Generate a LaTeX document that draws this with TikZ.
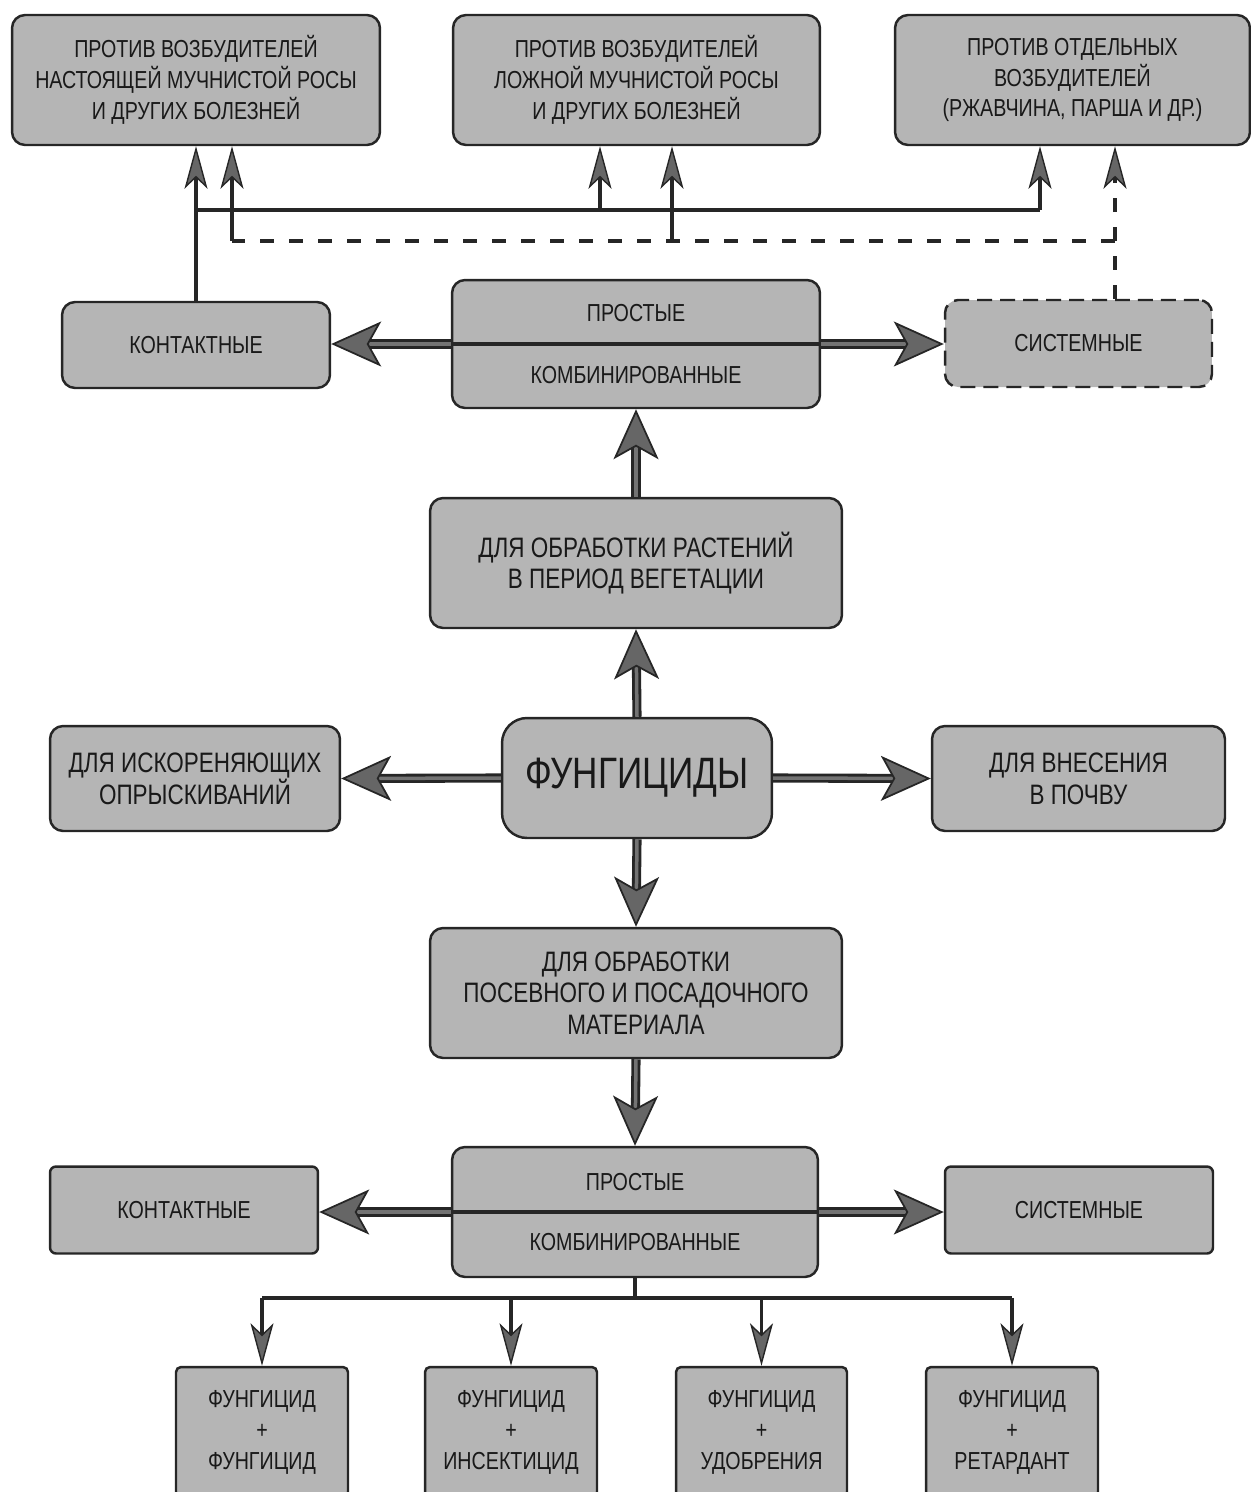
\documentclass[tikz,border=0pt]{standalone}
\usepackage{fontspec}
\setmainfont{Liberation Sans}[FakeStretch=0.8]
\usetikzlibrary{arrows.meta}

\begin{document}
\begin{tikzpicture}[x=0.02cm,y=-0.02cm]

\tikzset{box/.style = {draw=black!85, line width=1.4pt, fill=gray!58, rounded corners=0.26cm, align=center, text=black!90, inner sep=0pt, font=\fontsize{14}{17.6}\selectfont}}
\tikzset{bigbox/.style = {box, font=\fontsize{16}{18}\selectfont}}
\tikzset{wire/.style = {draw=black!85, line width=2.2pt}}
\tikzset{edge/.style = {wire, -{Stealth[length=0.85cm, width=0.46cm, inset=0.22cm, fill=gray!80!black, line width=0.8pt]}}}
\tikzset{fat/.style = {draw=black!85, line width=1.6pt, double=gray!90!black, double distance=0.07cm, -{Stealth[length=1cm, width=0.9cm, inset=0.25cm, fill=gray!80!black, line width=1pt]}}}
\tikzset{dashline/.style = {wire, dash pattern=on 0.28cm off 0.3cm}}

\useasboundingbox (0,0) rectangle (1251,1492);

%top boxes
\node[box, minimum width=7.36cm, minimum height=2.6cm] (t1) at (196,80) {ПРОТИВ ВОЗБУДИТЕЛЕЙ\\НАСТОЯЩЕЙ МУЧНИСТОЙ РОСЫ\\И ДРУГИХ БОЛЕЗНЕЙ};
\node[box, minimum width=7.34cm, minimum height=2.6cm] (t2) at (636.5,80) {ПРОТИВ ВОЗБУДИТЕЛЕЙ\\ЛОЖНОЙ МУЧНИСТОЙ РОСЫ\\И ДРУГИХ БОЛЕЗНЕЙ};
\node[box, minimum width=7.1cm, minimum height=2.6cm] (t3) at (1072.5,80) {ПРОТИВ ОТДЕЛЬНЫХ\\ВОЗБУДИТЕЛЕЙ\\(РЖАВЧИНА, ПАРША И ДР.)};

%vegetation group
\node[box, minimum width=5.36cm, minimum height=1.72cm] (kont1) at (196,345) {КОНТАКТНЫЕ};
\node[box, minimum width=7.36cm, minimum height=2.56cm] (prost1) at (636,344) {ПРОСТЫЕ\\[18pt]КОМБИНИРОВАННЫЕ};
\node[box, dash pattern=on 0.3cm off 0.16cm, minimum width=5.34cm, minimum height=1.74cm] (sist1) at (1078.5,343.5) {СИСТЕМНЫЕ};
\node[bigbox, minimum width=8.24cm, minimum height=2.6cm] (veg) at (636,563) {ДЛЯ ОБРАБОТКИ РАСТЕНИЙ\\В ПЕРИОД ВЕГЕТАЦИИ};

%centre row
\node[box, rounded corners=0.5cm, font=\fontsize{25}{30}\selectfont, minimum width=5.4cm, minimum height=2.4cm] (fung) at (637,778) {ФУНГИЦИДЫ};
\node[bigbox, minimum width=5.8cm, minimum height=2.1cm] (isk) at (195,778.5) {ДЛЯ ИСКОРЕНЯЮЩИХ\\ОПРЫСКИВАНИЙ};
\node[bigbox, minimum width=5.86cm, minimum height=2.1cm] (pochva) at (1078.5,778.5) {ДЛЯ ВНЕСЕНИЯ\\В ПОЧВУ};

%seed group
\node[bigbox, minimum width=8.24cm, minimum height=2.6cm] (posev) at (636,993) {ДЛЯ ОБРАБОТКИ\\ПОСЕВНОГО И ПОСАДОЧНОГО\\МАТЕРИАЛА};
\node[box, minimum width=7.32cm, minimum height=2.6cm] (prost2) at (635,1212) {ПРОСТЫЕ\\[17pt]КОМБИНИРОВАННЫЕ};
\node[box, rounded corners=0.12cm, minimum width=5.36cm, minimum height=1.74cm] (kont2) at (184,1210) {КОНТАКТНЫЕ};
\node[box, rounded corners=0.12cm, minimum width=5.36cm, minimum height=1.74cm] (sist2) at (1079,1210) {СИСТЕМНЫЕ};

%mixtures
\node[box, rounded corners=0.1cm, minimum width=3.44cm, minimum height=2.6cm] (f1) at (262,1432) {ФУНГИЦИД\\+\\ФУНГИЦИД};
\node[box, rounded corners=0.1cm, minimum width=3.44cm, minimum height=2.6cm] (f2) at (511,1432) {ФУНГИЦИД\\+\\ИНСЕКТИЦИД};
\node[box, rounded corners=0.1cm, minimum width=3.42cm, minimum height=2.6cm] (f3) at (761.5,1432) {ФУНГИЦИД\\+\\УДОБРЕНИЯ};
\node[box, rounded corners=0.1cm, minimum width=3.44cm, minimum height=2.6cm] (f4) at (1012,1432) {ФУНГИЦИД\\+\\РЕТАРДАНТ};

%bus lines
\coordinate (solidL) at (196,210);
\coordinate (solidR) at (1040,210);
\coordinate (toT2a) at (600,210);
\coordinate (dashL) at (232,241);
\coordinate (dashR) at (1115,241);
\coordinate (toT2b) at (672,241);
\coordinate (bus2) at (635,1298);

%edges top
\draw[wire] (kont1.north) -- (solidL) -- (solidR);
\draw[edge] (solidL) -- (t1.south -| solidL);
\draw[edge] (toT2a) -- (t2.south -| toT2a);
\draw[edge] (solidR) -- (t3.south -| solidR);
\draw[dashline] (sist1.north -| dashR) -- (dashR) -- (dashL);
\draw[edge, dash pattern=on 0.28cm off 0.3cm] (dashR) -- (t3.south -| dashR);
\draw[edge] (dashL) -- (t1.south -| dashL);
\draw[edge] (toT2b) -- (t2.south -| toT2b);

%fat arrows
\draw[wire] (prost1.west) -- (prost1.east);
\draw[fat] (prost1.west) -- (kont1.east |- prost1.west);
\draw[fat] (prost1.east) -- (sist1.west |- prost1.east);
\draw[fat] (veg.north) -- (prost1.south);
\draw[fat] (fung.north) -- (veg.south);
\draw[fat] (fung.south) -- (posev.north);
\draw[fat] (fung.west) -- (isk.east);
\draw[fat] (fung.east) -- (pochva.west);
\draw[fat] (posev.south) -- (prost2.north);
\draw[wire] (prost2.west) -- (prost2.east);
\draw[fat] (prost2.west) -- (kont2.east |- prost2.west);
\draw[fat] (prost2.east) -- (sist2.west |- prost2.east);

%edges bottom
\draw[wire] (prost2.south) -- (bus2);
\draw[wire] (f1.north |- bus2) -- (f4.north |- bus2);
\draw[edge] (f1.north |- bus2) -- (f1.north);
\draw[edge] (f2.north |- bus2) -- (f2.north);
\draw[edge] (f3.north |- bus2) -- (f3.north);
\draw[edge] (f4.north |- bus2) -- (f4.north);

\end{tikzpicture}
\end{document}
